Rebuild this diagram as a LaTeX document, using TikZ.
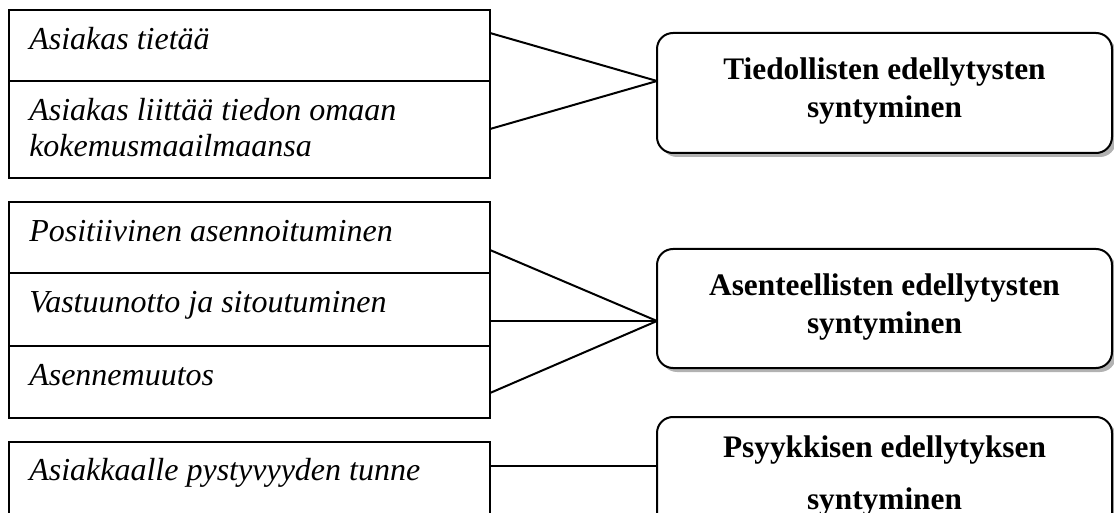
\documentclass[tikz,border=0pt]{standalone}
\usepackage{fontspec}
\setmainfont{Liberation Serif}
\usetikzlibrary{shadows}
\begin{document}
\begin{tikzpicture}[x=0.75pt,y=-0.75pt,
  row/.style={draw,line width=1.5pt,inner sep=0,outer sep=0,anchor=north west,minimum width=360.75pt},
  itemtext/.style={anchor=base west,inner sep=0,font=\fontsize{24}{28}\selectfont\itshape},
  goal/.style={draw,line width=1.5pt,fill=white,rounded corners=12pt,inner sep=0,outer sep=0,
    anchor=north west,minimum width=341.25pt,
    drop shadow={shadow xshift=3pt,shadow yshift=-3pt,fill=gray!60,opacity=1}},
  goaltext/.style={anchor=base,inner sep=0,font=\fontsize{23.5}{28}\selectfont\bfseries},
  link/.style={line width=1.5pt}]
\useasboundingbox (0,0) rectangle (1114,513);

% left column: groups of factor rows
\node[row,minimum height=53.25pt] (r11) at (9,10) {};
\node[row,minimum height=72.75pt] (r12) at (9,81) {};
\node[row,minimum height=53.25pt] (r21) at (9,202) {};
\node[row,minimum height=54.75pt] (r22) at (9,273) {};
\node[row,minimum height=54pt]    (r23) at (9,346) {};
\node[row,minimum height=54pt]    (r31) at (9,442) {};

\node[itemtext] (t11) at (29,50)  {Asiakas tietää};
\node[itemtext] (t12) at (29,121) {Asiakas liittää tiedon omaan};
\node[itemtext] (t12b) at (29,157) {kokemusmaailmaansa};
\node[itemtext] (t21) at (29,242) {Positiivinen asennoituminen};
\node[itemtext] (t22) at (29,313) {Vastuunotto ja sitoutuminen};
\node[itemtext] (t23) at (29,385) {Asennemuutos};
\node[itemtext] (t31) at (29,480) {Asiakkaalle pystyvyyden tunne};

% right column: outcome boxes
\node[goal,minimum height=90pt]    (g1) at (657,33)  {};
\node[goal,minimum height=89.25pt] (g2) at (657,249) {};
\node[goal,minimum height=90pt]    (g3) at (657,417) {};

\node[goaltext] (h1a) at (884.5,80)  {Tiedollisten edellytysten};
\node[goaltext] (h1b) at (884.5,118) {syntyminen};
\node[goaltext] (h2a) at (884.5,296) {Asenteellisten edellytysten};
\node[goaltext] (h2b) at (884.5,334) {syntyminen};
\node[goaltext] (h3a) at (884.5,457) {Psyykkisen edellytyksen};
\node[goaltext] (h3b) at (884.5,509) {syntyminen};

% connector end points
\coordinate (a11) at (490,33);
\coordinate (a12) at (490,129);
\coordinate (b1)  at (657,81);
\coordinate (a21) at (490,250);
\coordinate (a22) at (490,321);
\coordinate (a23) at (490,393);
\coordinate (b2)  at (657,321);
\coordinate (a31) at (490,466);
\coordinate (b3)  at (657,466);

\draw[link] (a11) -- (b1);
\draw[link] (a12) -- (b1);
\draw[link] (a21) -- (b2);
\draw[link] (a22) -- (b2);
\draw[link] (a23) -- (b2);
\draw[link] (a31) -- (b3);
\end{tikzpicture}
\end{document}
